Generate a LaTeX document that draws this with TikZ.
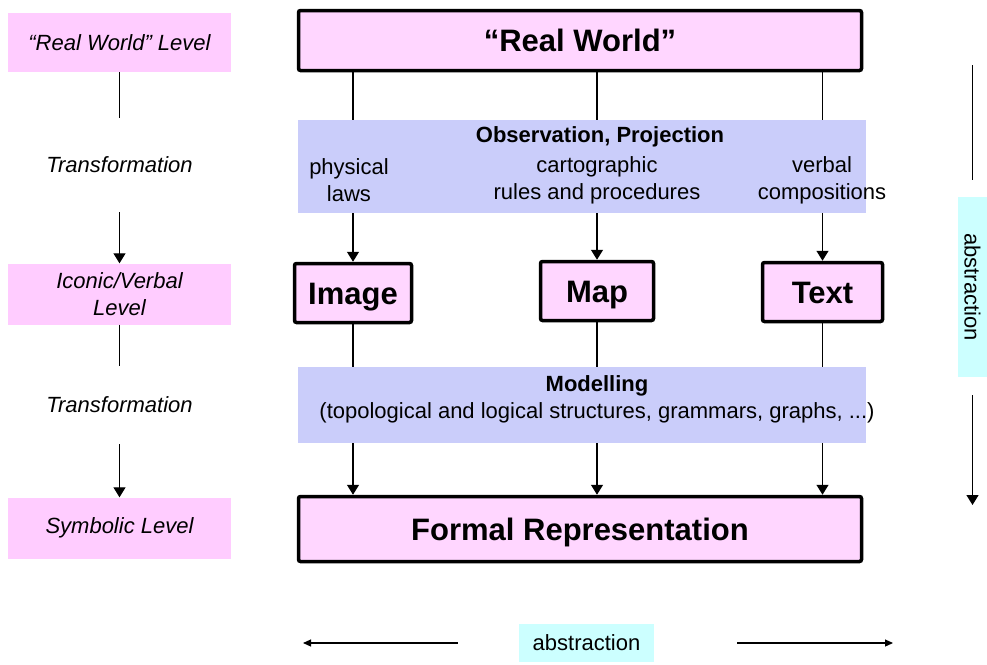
\documentclass[tikz,border=0pt]{standalone}
\usepackage{fontspec}
\setmainfont{Liberation Sans}
\usetikzlibrary{arrows.meta}
\definecolor{lvlpink}{RGB}{255,204,255}
\definecolor{boxpink}{RGB}{255,214,255}
\definecolor{stagelav}{RGB}{202,205,250}
\definecolor{abscyan}{RGB}{204,255,255}
\newcommand{\normtext}{\fontsize{22}{27}\selectfont}
\newcommand{\bigtext}{\fontsize{31}{36}\selectfont\bfseries}
\tikzset{
  lvlbox/.style={fill=lvlpink,minimum width=223pt,minimum height=61pt,inner sep=0pt,align=center,font=\normtext\itshape},
  mainbox/.style={draw=black,line width=3.5pt,rounded corners=2pt,fill=boxpink,inner sep=0pt,text height=22pt,text depth=0pt,font=\bigtext},
  stagebox/.style={fill=stagelav,minimum width=568pt,inner sep=0pt},
  absbox/.style={fill=abscyan,inner sep=0pt,font=\normtext},
  lbl/.style={font=\normtext,align=center,inner sep=0pt},
  arr/.style={-{Triangle[length=10pt,width=12pt]},line width=1.3pt},
  thinarr/.style={-{Triangle[length=8pt,width=7pt]},line width=1.1pt}
}
\begin{document}
\begin{tikzpicture}[x=1pt,y=-1pt]
  \useasboundingbox (0,0) rectangle (987,664);
  % levels on the left
  \node[lvlbox,minimum height=59pt] (lvl1) at (119.5,42.5) {“Real World” Level};
  \node[lvlbox] (lvl2) at (119.5,294) {Iconic/Verbal\\Level};
  \node[lvlbox] (lvl3) at (119.5,528) {Symbolic Level};
  \node[lbl,font=\normtext\itshape,minimum height=94pt] (tr1) at (119.5,165) {Transformation};
  \node[lbl,font=\normtext\itshape,minimum height=78pt] (tr2) at (119.5,405) {Transformation};
  \draw[line width=1.3pt] (lvl1) -- (tr1);
  \draw[arr] (tr1) -- (lvl2);
  \draw[line width=1.3pt] (lvl2) -- (tr2);
  \draw[arr] (tr2) -- (lvl3);
  % main column
  \node[mainbox,minimum width=563pt,minimum height=60pt] (rw) at (580,40.5) {“Real World”};
  \node[stagebox,minimum height=93pt] (obs) at (582,166.5) {};
  \node[mainbox,minimum width=117pt,minimum height=59pt] (img) at (353,293) {Image};
  \node[mainbox,minimum width=113pt,minimum height=59pt] (map) at (597,291) {Map};
  \node[mainbox,minimum width=120pt,minimum height=59pt] (txt) at (822.5,292) {Text};
  \node[stagebox,minimum height=76pt] (mod) at (582,405) {};
  \node[mainbox,minimum width=563pt,minimum height=65pt] (frm) at (580,529) {Formal Representation};
  % texts of the transformations
  \node[lbl,font=\normtext\bfseries] (obstitle) at (600,137) {Observation, Projection};
  \node[lbl] (lawphys) at (349,180) {physical\\laws};
  \node[lbl] (lawcarto) at (597,180) {cartographic\\rules and procedures};
  \node[lbl] (lawverb) at (822,180) {verbal\\compositions};
  \node[lbl,font=\normtext\bfseries] (modtitle) at (597,386) {Modelling};
  \node[lbl] (modsub) at (597,413) {(topological and logical structures, grammars, graphs, ...)};
  % connectors
  \foreach \n in {img,map,txt} {
    \draw[line width=1.3pt] (rw.south -| \n) -- (obs.north -| \n);
    \draw[arr] (obs.south -| \n) -- (\n.north);
    \draw[line width=1.3pt] (\n.south) -- (mod.north -| \n);
    \draw[arr] (mod.south -| \n) -- (frm.north -| \n);
  }
  % abstraction, vertical
  \node[absbox,rotate=-90,minimum width=180pt,minimum height=29pt] (absv) at (972.5,287) {abstraction};
  \coordinate (abstop) at (972.5,65);
  \coordinate (absbot) at (972.5,505);
  \draw[line width=1.3pt,shorten >=17pt] (abstop) -- (absv);
  \draw[arr,shorten <=18pt] (absv) -- (absbot);
  % abstraction, horizontal
  \node[absbox,minimum width=135pt,minimum height=38pt] (absh) at (586.5,643) {abstraction};
  \coordinate (absleft) at (303,643);
  \coordinate (absright) at (893,643);
  \draw[thinarr,shorten <=61pt] (absh) -- (absleft);
  \draw[thinarr,shorten <=83pt] (absh) -- (absright);
\end{tikzpicture}
\end{document}
